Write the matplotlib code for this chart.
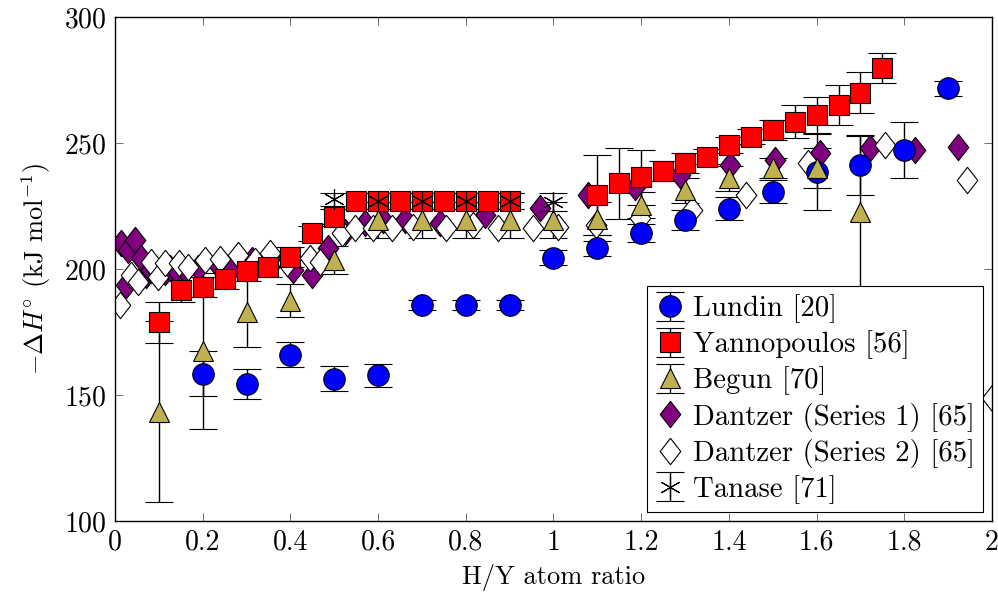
import matplotlib
matplotlib.use("Agg")
import matplotlib.pyplot as plt

plt.rcParams['font.family'] = 'serif'
plt.rcParams['font.serif'] = ['cmr10']
plt.rcParams['mathtext.fontset'] = 'cm'
plt.rcParams['axes.formatter.use_mathtext'] = True

# Lundin [20]
lundin_x = [0.2, 0.3, 0.4, 0.5, 0.6, 0.7, 0.8, 0.9, 1.0, 1.1, 1.2, 1.3, 1.4, 1.5, 1.6, 1.7, 1.8, 1.9]
lundin_y = [158.5, 154.5, 166.0, 156.5, 157.8, 185.8, 185.8, 185.8, 204.5, 208.2, 214.2, 219.4, 224.0,
            230.7, 238.6, 241.2, 247.2, 271.7]
lundin_err = [9, 6, 5, 5, 4.5, 2, 2, 2, 3, 3, 3.5, 4, 4.5, 4.5, 15, 12, 11, 3]

# Yannopoulos [56]
yann_x = [0.1, 0.15, 0.2, 0.25, 0.3, 0.35, 0.4, 0.45, 0.5, 0.55, 0.6, 0.65, 0.7, 0.75, 0.8, 0.85, 0.9,
          1.1, 1.15, 1.2, 1.25, 1.3, 1.35, 1.4, 1.45, 1.5, 1.55, 1.6, 1.65, 1.7, 1.75]
yann_y = [178.8, 191.7, 192.7, 195.9, 199.3, 200.7, 204.9, 214.2, 220.8, 227, 227, 227, 227, 227, 227, 227, 227,
          229.4, 234.0, 236.4, 238.8, 242.2, 244.6, 249.2, 252.5, 255.2, 258.5, 261.1, 265.1, 270.0, 279.9]
yann_err = [8, 5, 4, 4, 4, 4, 4, 3, 3, 3, 3, 3, 3, 3, 3, 3, 3,
            16, 14, 11, 4, 4, 3, 3, 3, 4, 6.6, 7, 8, 8, 6]

# Begun [70]
begun_x = [0.1, 0.2, 0.3, 0.4, 0.5, 0.6, 0.7, 0.8, 0.9, 1.0, 1.1, 1.2, 1.3, 1.4, 1.5, 1.6, 1.7]
begun_y = [143.4, 167.6, 183.1, 187.4, 203.6, 219.4, 219.4, 219.4, 219.4, 219.4, 220.0, 225.4, 231.3,
           236.0, 240.0, 240.0, 222.7]
begun_err = [36, 31, 14, 6.5, 5.5, 7, 7, 7, 7, 7, 6.5, 5, 5, 5, 4, 8, 30]

# Dantzer (Series 1) [65]
dan1_x = [0.014, 0.026, 0.030, 0.046, 0.060, 0.071, 0.083, 0.098, 0.113, 0.125, 0.140, 0.159, 0.189,
          0.235, 0.269, 0.312, 0.361, 0.407, 0.449, 0.486, 0.525, 0.570, 0.612, 0.661, 0.741, 0.844,
          0.969, 1.079, 1.186, 1.288, 1.402, 1.505, 1.608, 1.722, 1.824, 1.923]
dan1_y = [210.3, 193.7, 207.5, 211.5, 204.2, 197.6, 199.6, 198.9, 198.9, 200.3, 199.6, 199.6, 200.3,
          201.6, 200.9, 203.6, 202.9, 199.6, 197.6, 208.2, 214.8, 218.1, 219.4, 219.4, 218.1, 221.4,
          224.1, 229.4, 232.7, 237.3, 241.3, 243.3, 245.9, 247.9, 247.2, 248.5]

# Dantzer (Series 2) [65]
dan2_x = [0.011, 0.037, 0.052, 0.083, 0.098, 0.113, 0.147, 0.166, 0.205, 0.240, 0.281, 0.320, 0.353,
          0.392, 0.445, 0.467, 0.517, 0.547, 0.589, 0.631, 0.680, 0.756, 0.817, 0.874, 0.954, 1.011,
          1.098, 1.197, 1.315, 1.440, 1.581, 1.756, 1.942, 2.000]
dan2_y = [185.7, 197.6, 195.0, 202.9, 196.8, 202.3, 202.3, 200.9, 203.6, 204.0, 205.6, 203.0, 206.3,
          202.3, 204.2, 202.9, 214.2, 216.1, 216.1, 216.1, 216.8, 216.1, 217.5, 216.1, 216.1, 216.8,
          217.5, 220.1, 223.4, 229.4, 242.1, 249.2, 235.3, 148.8]

# Tanase [71]
tanase_x = [0.5, 0.6, 0.7, 0.8, 0.9, 1.0]
tanase_y = [227.6, 227.0, 227.0, 227.0, 227.0, 226.7]
tanase_err = [2.5, 3, 3, 3, 3, 3.5]

order = ['Lundin [20]', 'Yannopoulos [56]', 'Begun [70]',
         'Dantzer (Series 1) [65]', 'Dantzer (Series 2) [65]', 'Tanase [71]']

diamond = [(0, 1), (0.78, 0), (0, -1), (-0.78, 0), (0, 1)]

fig = plt.figure(figsize=(9.98, 5.98), dpi=100)
ax = fig.add_axes([0.1152, 0.1288, 0.8788, 0.8428])

eb = dict(ecolor='black', elinewidth=1.0, capsize=10, capthick=1.0, linestyle='none',
          markeredgecolor='black', markeredgewidth=0.8)

ax.errorbar(lundin_x, lundin_y, yerr=lundin_err, marker='o', markersize=15.5,
            markerfacecolor='#0000ff', label=order[0], **eb)
ax.errorbar(yann_x, yann_y, yerr=yann_err, marker='s', markersize=15,
            markerfacecolor='#ff0000', label=order[1], **eb)
ax.errorbar(begun_x, begun_y, yerr=begun_err, marker='^', markersize=15,
            markerfacecolor='#bfb14f', label=order[2], **eb)
ax.plot(dan1_x, dan1_y, linestyle='none', marker=diamond, markersize=19,
        markerfacecolor='#800080', markeredgecolor='black', markeredgewidth=0.8,
        label=order[3])
ax.plot(dan2_x, dan2_y, linestyle='none', marker=diamond, markersize=19,
        markerfacecolor='white', markeredgecolor='black', markeredgewidth=0.8,
        label=order[4])
ax.errorbar(tanase_x, tanase_y, yerr=tanase_err, marker=(6, 2, 0), markersize=15,
            markerfacecolor='none', label=order[5], **eb)

ax.set_xlim(0, 2)
ax.set_ylim(100, 300)
ax.set_xticks([0, 0.2, 0.4, 0.6, 0.8, 1, 1.2, 1.4, 1.6, 1.8, 2])
ax.set_xticklabels(['0', '0.2', '0.4', '0.6', '0.8', '1', '1.2', '1.4', '1.6', '1.8', '2'])
ax.set_yticks([100, 150, 200, 250, 300])
ax.tick_params(direction='in', top=True, right=True, length=6, width=0.6, color='#555555',
               labelsize=20, pad=6)
for s in ax.spines.values():
    s.set_linewidth(1.0)

ax.set_xlabel('H/Y atom ratio', fontsize=19, labelpad=6)
ax.set_ylabel(r'$-\Delta H^{\circ}$ (kJ mol$^{-1}$)', fontsize=19, labelpad=8)

handles, labels = ax.get_legend_handles_labels()
hmap = dict(zip(labels, handles))
leg = ax.legend([hmap[k] for k in order], order, loc='lower right', fontsize=20.7, frameon=True,
                fancybox=False, edgecolor='black', framealpha=1, borderaxespad=0.3,
                handlelength=1.0, handletextpad=0.3, labelspacing=0.25, borderpad=0.3)
leg.get_frame().set_linewidth(0.8)

fig.savefig('out.png', dpi=100)
